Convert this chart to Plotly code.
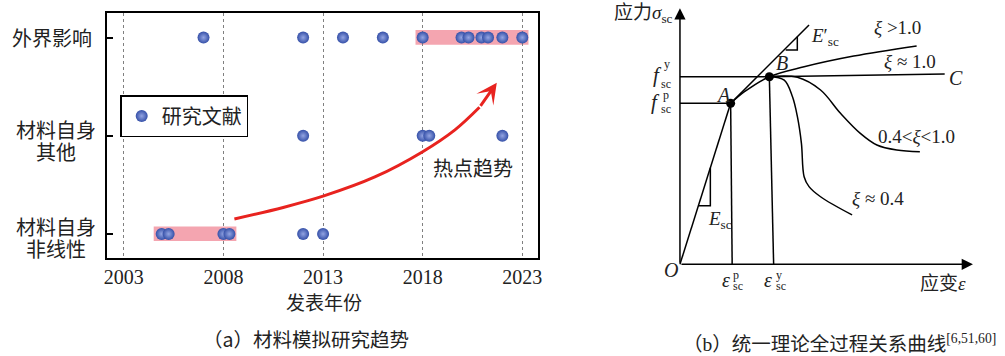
import plotly.graph_objects as go

# ---------------- panel (a): publication timeline ----------------
years_ext = [2007, 2012, 2014, 2016, 2018, 2019.95, 2020.3, 2020.95, 2021.28, 2022, 2023]
years_other = [2012, 2018, 2018.33, 2022]
years_nonlin = [2004.9, 2005.25, 2008, 2008.3, 2012, 2013]

row_labels = [["材料自身", "非线性"], ["材料自身", "其他"], ["外界影响"]]
year_ticks = [2003, 2008, 2013, 2018, 2023]

# highlighted year ranges: (x0, x1, row)
hot_ranges = [(2004.5, 2008.65, 0), (2017.64, 2023.31, 2)]

# trend arrow path (year, row position)
trend_x = [2008.55, 2011.0, 2013.04, 2015.6, 2017.98, 2019.62, 2020.85]
trend_y = [0.153, 0.27, 0.387, 0.58, 0.835, 1.06, 1.29]
trend_tip = (2021.72, 1.54)

# ---------------- panel (b): unified theory stress-strain curve ----------------
# coordinates normalised: strain / eps_y, stress / f_y
eps_p, f_p = 0.567, 0.858
eps_y, f_y = 1.0, 1.0

elastic_x = [0.0, eps_p]
elastic_y = [0.0, f_p]
tangent_x = [eps_p, 1.444]
tangent_y = [f_p, 1.276]
harden_x = [eps_p, 0.722, eps_y, 1.389, 1.944, 2.648]
harden_y = [f_p, 0.92, f_y, 1.053, 1.11, 1.164]
plateau_x = [0.0, eps_y, 2.962]
plateau_y = [f_y, f_y, 1.014]
mid_x = [eps_y, 1.314, 1.573, 1.796, 2.018, 2.203, 2.426, 2.684]
mid_y = [f_y, 0.997, 0.929, 0.805, 0.698, 0.636, 0.609, 0.600]
low_x = [eps_y, 1.167, 1.259, 1.314, 1.359, 1.389, 1.444, 1.573, 1.926]
low_y = [f_y, 0.982, 0.893, 0.787, 0.645, 0.467, 0.414, 0.360, 0.263]
esc_tri_x = [0.34, 0.34, 0.206]
esc_tri_y = [0.514, 0.312, 0.312]
etan_tri_x = [1.313, 1.313, 1.183]
etan_tri_y = [1.213, 1.142, 1.142]
axis_end_x = 3.278
axis_end_y = 1.365

BLUE = "#3550a8"
PINK = "#f4a5b0"
RED = "#e8231f"
TXT = "#222222"
CJK = "Noto Sans CJK SC"
SERIF = "Liberation Serif, Noto Sans CJK SC"

fig = go.Figure()

marker = dict(size=12, color=BLUE, line=dict(width=0),
              gradient=dict(type="radial", color="#93a4e2"))

rows = [(years_nonlin, 0), (years_other, 1), (years_ext, 2)]
for i, (xs, r) in enumerate(rows):
    fig.add_trace(go.Scatter(
        x=xs, y=[r] * len(xs), mode="markers", marker=marker,
        name="研究文献", showlegend=(i == 0), legendgroup="lit",
        xaxis="x", yaxis="y"))

fig.add_trace(go.Scatter(
    x=trend_x, y=trend_y, mode="lines", line=dict(color=RED, width=3, shape="spline"),
    showlegend=False, hoverinfo="skip", xaxis="x", yaxis="y"))

shapes = []
for x0, x1, r in hot_ranges:
    shapes.append(dict(type="rect", xref="x", yref="y", x0=x0, x1=x1,
                       y0=r - 0.073, y1=r + 0.077, fillcolor=PINK,
                       line=dict(width=0), layer="below"))

annotations = []
# arrowhead of the trend arrow
annotations.append(dict(xref="x", yref="y", axref="x", ayref="y",
                        x=trend_tip[0], y=trend_tip[1],
                        ax=trend_x[-1], ay=trend_y[-1],
                        showarrow=True, arrowhead=3, arrowsize=1.15,
                        arrowwidth=3, arrowcolor=RED, text=""))
annotations.append(dict(xref="x", yref="y", x=2020.53, y=0.673, text="热点趋势",
                        showarrow=False, font=dict(family=CJK, size=20, color=TXT)))

# row labels (two-line labels are centred on each other)
shifts = {0: [7, -15], 1: [6, -16], 2: [0]}
for r, lines in enumerate(row_labels):
    single = len(lines) == 1
    for line, ys in zip(lines, shifts[r]):
        annotations.append(dict(xref="paper", yref="y",
                                x=(92 if single else 53) / 1005,
                                y=r, yshift=ys, text=line, showarrow=False,
                                xanchor="right" if single else "center",
                                yanchor="middle",
                                font=dict(family=CJK, size=20, color=TXT)))

annotations.append(dict(xref="paper", yref="paper", x=323 / 1005, y=1 - 301 / 356,
                        xanchor="center", yanchor="middle",
                        text="发表年份", showarrow=False,
                        font=dict(family=CJK, size=19, color=TXT)))
annotations.append(dict(xref="paper", yref="paper", x=305 / 1005, y=1 - 338 / 356,
                        xanchor="center", yanchor="middle",
                        text="（a）材料模拟研究趋势", showarrow=False,
                        font=dict(family=CJK, size=19.5, color=TXT)))

# ---------------- panel (b) drawing ----------------
blk = dict(color="black", width=1.5)
def seg(xs, ys, spline=False):
    fig.add_trace(go.Scatter(x=xs, y=ys, mode="lines",
                             line=dict(blk, shape="spline" if spline else "linear"),
                             showlegend=False, hoverinfo="skip",
                             xaxis="x2", yaxis="y2"))

seg(elastic_x, elastic_y)
seg(tangent_x, tangent_y)
seg(harden_x, harden_y, spline=True)
seg(plateau_x, plateau_y)
seg(mid_x, mid_y, spline=True)
seg(low_x, low_y, spline=True)
seg([0.0, eps_p], [f_p, f_p])
seg([eps_p, 0.584], [f_p, 0.0])
seg([eps_y, 1.048], [f_y, 0.0])
seg(esc_tri_x, esc_tri_y)
seg(etan_tri_x, etan_tri_y)
fig.add_trace(go.Scatter(x=[eps_p, eps_y], y=[f_p, f_y], mode="markers",
                         marker=dict(size=9, color="black"), showlegend=False,
                         hoverinfo="skip", xaxis="x2", yaxis="y2"))

for (tx, ty) in [(axis_end_x, 0.0), (0.0, axis_end_y)]:
    annotations.append(dict(xref="x2", yref="y2", axref="x2", ayref="y2",
                            x=tx, y=ty, ax=0.0, ay=0.0, showarrow=True,
                            arrowhead=2, arrowsize=1.5, arrowwidth=1.5,
                            arrowcolor="black", text=""))

def lab(x, y, text, size=19, xanchor="center", family=SERIF):
    annotations.append(dict(xref="x2", yref="y2", x=x, y=y, text=text,
                            showarrow=False, xanchor=xanchor, yanchor="middle",
                            font=dict(family=family, size=size, color=TXT)))

lab(-0.06, 1.335, "应力<i>σ</i><sub>sc</sub>", xanchor="right")
lab(1.44, 1.21, "<i>E</i>′<sub>sc</sub>", xanchor="left")
lab(2.15, 1.26, "<i>ξ</i> >1.0", xanchor="left")
lab(2.26, 1.08, "<i>ξ</i> ≈ 1.0", xanchor="left")
lab(2.99, 0.995, "<i>C</i>", xanchor="left", size=20)
lab(1.14, 1.075, "<i>B</i>", size=20)
lab(0.49, 0.905, "<i>A</i>", size=20)
lab(-0.25, 1.01, "<i>f</i>", size=21)
lab(-0.20, 1.07, "y", size=12, xanchor="left")
lab(-0.23, 0.962, "sc", size=12, xanchor="left")
lab(-0.27, 0.865, "<i>f</i>", size=21)
lab(-0.21, 0.905, "p", size=12, xanchor="left")
lab(-0.24, 0.827, "sc", size=12, xanchor="left")
lab(2.19, 0.68, "0.4<<i>ξ</i><1.0", xanchor="left")
lab(1.90, 0.352, "<i>ξ</i> ≈ 0.4", xanchor="left")
lab(0.29, 0.236, "<i>E</i><sub>sc</sub>", xanchor="left")
lab(-0.095, -0.03, "<i>O</i>", size=20)
lab(0.51, -0.084, "<i>ε</i>", size=20)
lab(0.575, -0.055, "p", size=12, xanchor="left")
lab(0.575, -0.115, "sc", size=12, xanchor="left")
lab(0.99, -0.084, "<i>ε</i>", size=20)
lab(1.055, -0.055, "y", size=12, xanchor="left")
lab(1.055, -0.115, "sc", size=12, xanchor="left")
lab(3.225, -0.10, "应变<i>ε</i>", xanchor="right")

annotations.append(dict(xref="paper", yref="paper", x=1002 / 1005, y=1 - 343 / 356,
                        xanchor="right", yanchor="middle",
                        text="（b）统一理论全过程关系曲线<sup>[6,51,60]</sup>",
                        showarrow=False, font=dict(family=SERIF, size=19.5, color=TXT)))

fig.update_layout(
    width=1005, height=356, margin=dict(l=0, r=0, t=0, b=0),
    paper_bgcolor="white", plot_bgcolor="white",
    shapes=shapes, annotations=annotations,
    xaxis=dict(domain=[105 / 1005, 539 / 1005], range=[2002.17, 2023.8],
               tickvals=year_ticks, ticktext=[str(y) for y in year_ticks],
               showgrid=True, gridcolor="#808080", griddash="3px,3px", gridwidth=1.3,
               showline=True, linecolor="black", linewidth=2, mirror=True,
               ticks="", zeroline=False, anchor="y",
               tickfont=dict(family="Liberation Serif", size=20, color=TXT)),
    yaxis=dict(domain=[1 - 258 / 356, 1 - 13 / 356], range=[-0.245, 2.25],
               tickvals=[0, 1, 2], showticklabels=False, ticks="inside",
               ticklen=6, tickwidth=1.5, tickcolor="black",
               showgrid=False, zeroline=False, showline=True,
               linecolor="black", linewidth=2, mirror=True, anchor="x"),
    xaxis2=dict(domain=[590 / 1005, 1], range=[-1.019, 3.592], visible=False,
                anchor="y2", fixedrange=True),
    yaxis2=dict(domain=[0, 1], range=[-0.489, 1.409], visible=False,
                anchor="x2", fixedrange=True),
    legend=dict(x=118 / 1005, y=1 - 95 / 356, xanchor="left", yanchor="top",
                bordercolor="black", borderwidth=1.5, bgcolor="white",
                font=dict(family=CJK, size=20, color=TXT),
                itemwidth=30, tracegroupgap=0),
    showlegend=True,
)

fig.write_html("out.html")
